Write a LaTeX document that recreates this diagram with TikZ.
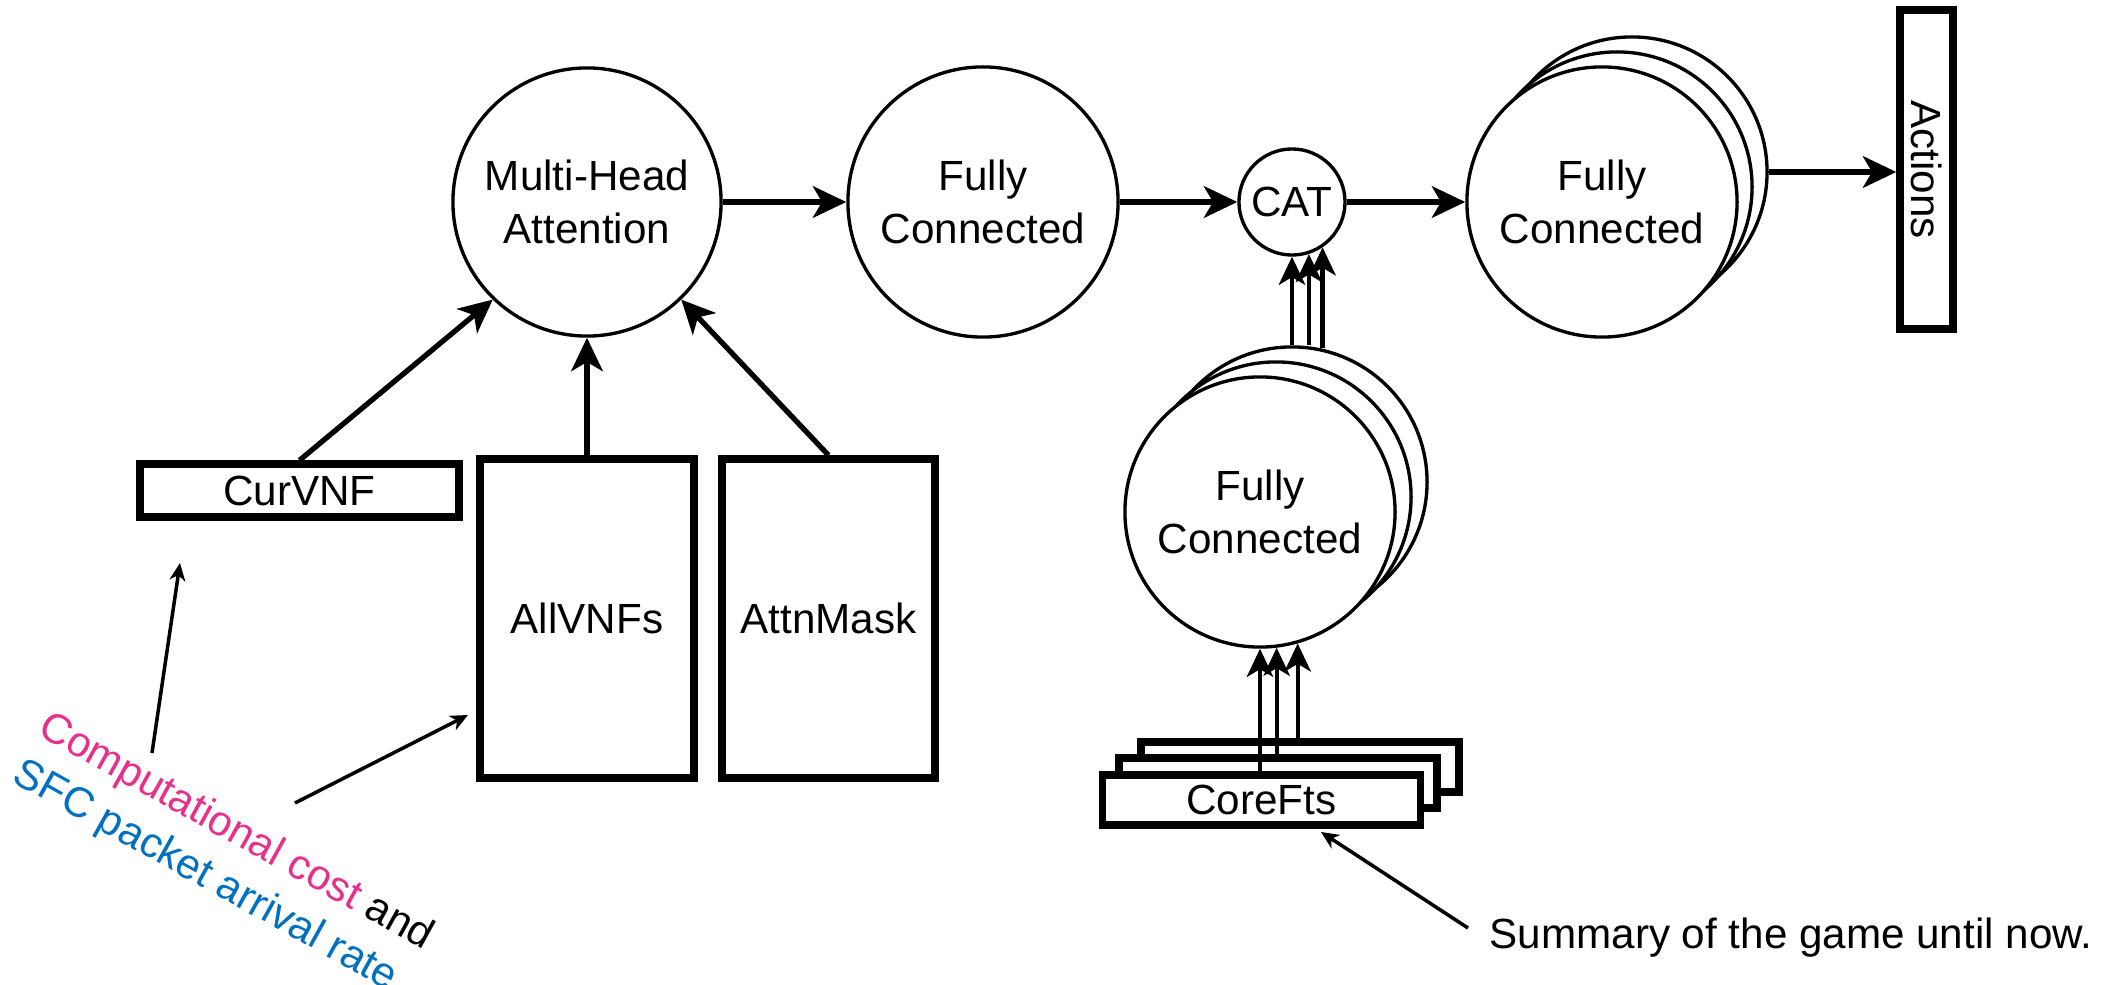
\documentclass[tikz,border=0pt]{standalone}
\usepackage{fontspec}
\setmainfont{Liberation Sans}
\usetikzlibrary{arrows.meta,calc}
\definecolor{pinkc}{RGB}{232,48,138}
\definecolor{bluec}{RGB}{0,112,192}
\begin{document}
\begin{tikzpicture}[x=0.01cm,y=-0.01cm,
  font=\fontsize{12}{15.2}\selectfont,
  circ/.style={circle,draw,line width=0.95pt,fill=white,inner sep=0pt,align=center},
  box/.style={rectangle,draw,line width=2.1pt,fill=white,inner sep=0pt,align=center},
  arr/.style={-{Stealth[length=9.5pt,width=9pt,inset=2.6pt]},line width=1.5pt},
  sarr/.style={-{Stealth[length=8pt,width=7.5pt,inset=2.2pt]},line width=1.2pt},
  note/.style={-{Stealth[length=5pt,width=4.5pt,inset=1.5pt]},line width=1pt}]
\useasboundingbox (0,0) rectangle (2123,985);

% top row circles
\node[circ,minimum size=2.68cm] (mha) at (587,202) {Multi-Head\\Attention};
\node[circ,minimum size=2.70cm] (fc1) at (983,202) {Fully\\Connected};
\node[circ,minimum size=1.06cm] (cat) at (1292,202) {CAT};
\node[circ,minimum size=2.70cm] (fcr3) at (1632,172) {};
\node[circ,minimum size=2.70cm] (fcr2) at (1617,187) {};
\node[circ,minimum size=2.70cm] (fcr1) at (1602,202) {Fully\\Connected};
\node[box,minimum width=0.53cm,minimum height=3.19cm] (act) at (1926.5,169.5) {\rotatebox{-90}{Actions}};

% input boxes
\node[box,minimum width=3.19cm,minimum height=0.53cm] (cur) at (299.5,490.5) {CurVNF};
\node[box,minimum width=2.14cm,minimum height=3.19cm] (all) at (587,618.5) {AllVNFs};
\node[box,minimum width=2.13cm,minimum height=3.19cm] (attn) at (828.5,618.5) {AttnMask};

% lower stack
\node[circ,minimum size=2.70cm] (fcl3) at (1292,482) {};
\node[circ,minimum size=2.70cm] (fcl2) at (1276,497) {};
\node[circ,minimum size=2.70cm] (fcl1) at (1260,512) {Fully\\Connected};

\node[box,minimum width=3.18cm,minimum height=0.50cm] (core3) at (1300,767) {};
\node[box,minimum width=3.18cm,minimum height=0.50cm] (core2) at (1278,783) {};
\node[box,minimum width=3.18cm,minimum height=0.50cm] (core1) at (1261.5,800) {CoreFts};

% main connectors
\draw[arr] (mha.east) -- (fc1.west);
\draw[arr] (fc1.east) -- (cat.west);
\draw[arr] (cat.east) -- (fcr1.west);
\draw[arr] (fcr3.east) -- (fcr3.east -| act.west);
\draw[arr] (cur.north) -- (mha.-134);
\draw[arr] (all.north) -- (mha.south);
\draw[arr] (attn.north) -- (mha.-46);

% stack connectors
\draw[sarr] (fcl3.north) -- (cat.south);
\draw[sarr] (cat.-72 |- fcl3.north) -- (cat.-72);
\draw[sarr] (cat.-56 |- fcl3.north) ++(0,3) -- (cat.-56);
\draw[sarr] (fcl1.south |- core1.north) -- (fcl1.south);
\draw[sarr] (fcl1.-83 |- core2.north) -- (fcl1.-83);
\draw[sarr] (fcl1.-74 |- core3.north) -- (fcl1.-74);

% annotations
\node[rotate=-29,align=left,font=\fontsize{12}{15.1}\selectfont] (ann) at (223,856)
  {\textcolor{pinkc}{Computational cost} and\\\textcolor{bluec}{SFC packet arrival rate}};
\coordinate (t1) at (152,753);
\coordinate (h1) at (180,563);
\coordinate (t2) at (295,803);
\coordinate (h2) at (468,715);
\draw[note] (t1) -- (h1);
\draw[note] (t2) -- (h2);

\node[anchor=base west,inner sep=0pt] (sum) at (1489,948) {Summary of the game until now.};
\coordinate (t3) at (1468,928);
\coordinate (h3) at (1321,832);
\draw[note] (t3) -- (h3);
\end{tikzpicture}
\end{document}
